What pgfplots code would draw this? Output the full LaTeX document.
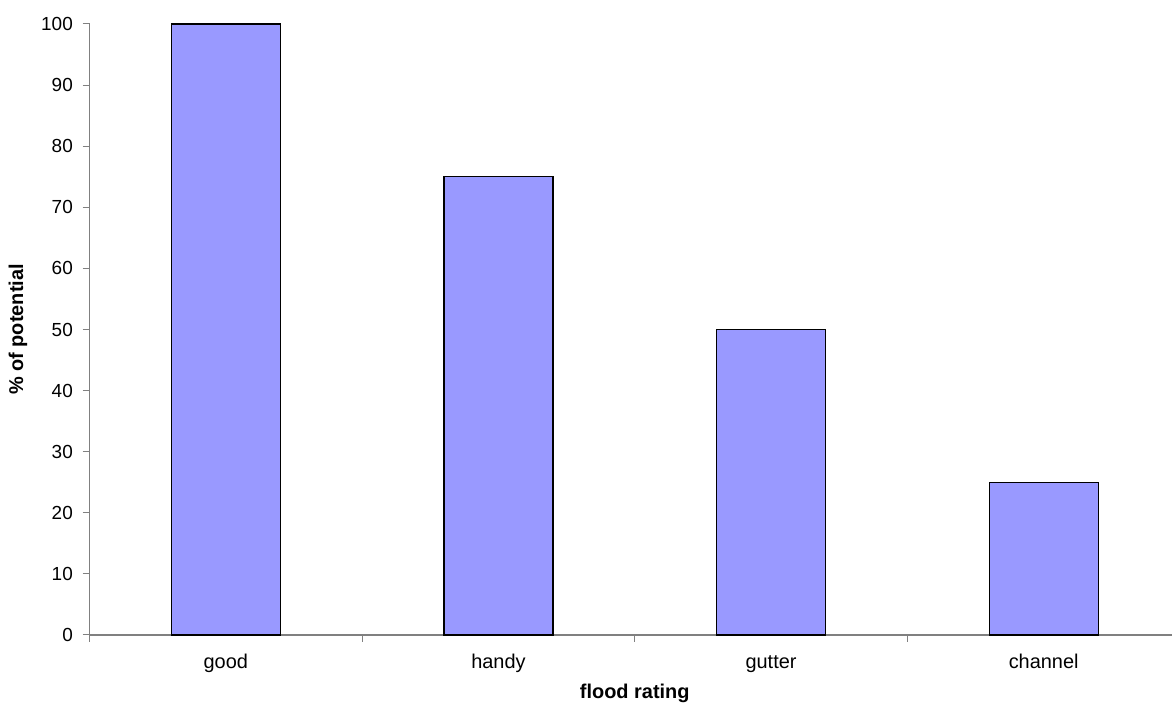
\documentclass[border=0pt]{standalone}
\usepackage{pgfplots}
\pgfplotsset{compat=1.18}
\usepackage{fontspec}
\setmainfont{Liberation Sans}
\definecolor{barblue}{HTML}{9999FF}
\definecolor{axisgray}{HTML}{808080}
\begin{document}
\begin{tikzpicture}[x=1bp,y=1bp]
\useasboundingbox (0,0) rectangle (1172,705);
\clip (0,0) rectangle (1172,705);
\begin{axis}[
  at={(89.5bp,70bp)}, anchor=south west,
  scale only axis, width=1090.5bp, height=611bp,
  xmin=-0.5, xmax=3.5, ymin=0, ymax=100,
  axis x line*=bottom, axis y line*=left,
  axis line style={axisgray, line width=1.2bp},
  tick align=outside, major tick length=7bp,
  tick style={axisgray, line width=1bp},
  /pgf/number format/assume math mode=true,
  ytick={0,10,...,100},
  xtick={-0.5,0.5,1.5,2.5},
  xticklabels={},
  extra x ticks={0,1,2,3},
  extra x tick labels={good,handy,gutter,channel},
  extra x tick style={major tick length=0pt, xticklabel style={anchor=base, yshift=-34bp}},
  ticklabel style={font=\fontsize{20}{20}\selectfont, black},
  yticklabel style={anchor=east, inner sep=0pt, xshift=-9.5bp, font=\fontsize{19}{19}\selectfont},
  xlabel={\bfseries flood rating},
  ylabel={\bfseries \% of potential},
  label style={font=\fontsize{20}{20}\selectfont},
  xlabel style={at={(axis description cs:0.5,-0.1047)}, anchor=base},
  ylabel style={at={(axis description cs:-0.0656,0.5)}, anchor=center, rotate=0},
  ybar, bar width=109bp,
  clip=false,
]
\addplot[fill=barblue, draw=black, line width=1.3bp] coordinates {(0,100) (1,75) (2,50) (3,25)};
\end{axis}
\end{tikzpicture}
\end{document}
